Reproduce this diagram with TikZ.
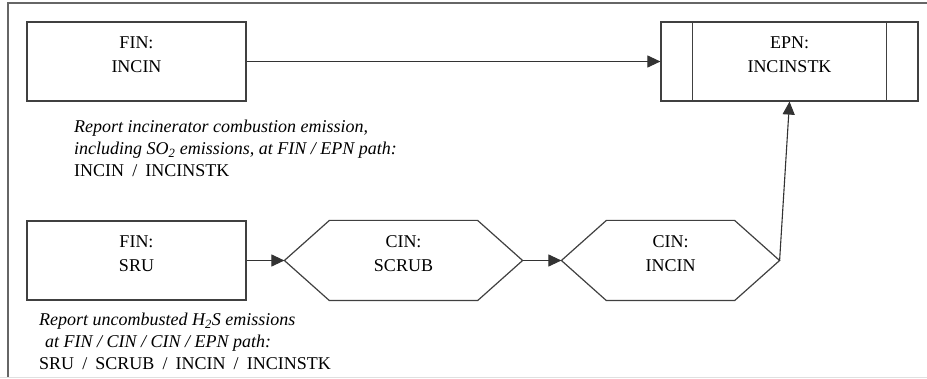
\documentclass[tikz,border=0pt]{standalone}
\usepackage{fontspec}
\setmainfont{Liberation Serif}
\usetikzlibrary{arrows.meta}
\newcommand{\pathsep}{\hspace{0.45em}/\hspace{0.45em}}
\begin{document}
\begin{tikzpicture}[x=1pt,y=-1pt,
  every node/.style={font=\fontsize{18}{24}\selectfont,align=center},
  unit/.style={draw=black!75,line width=1.2pt,minimum height=79pt,text depth=14pt,inner sep=0pt},
  note/.style={anchor=north west,align=left,inner sep=0pt,font=\fontsize{18}{22}\selectfont},
  flow/.style={draw=black!80,line width=1.1pt,-{Triangle[length=13pt,width=12pt]}}]
\useasboundingbox(0,0) rectangle (927,379);
\draw[black!60,line width=1.2pt](927,3)--(8,3)--(8,378);
\draw[black!12,line width=1pt](0,378)--(927,378);
\node[unit,minimum width=219pt](fincin) at (136.5,61.5){FIN:\\INCIN};
\node[unit,minimum width=257pt](epn) at (789.5,61.5){EPN:\\INCINSTK};
\draw[black!75,line width=1.2pt]([xshift=32pt]epn.north west)--([xshift=32pt]epn.south west)
  ([xshift=-32pt]epn.north east)--([xshift=-32pt]epn.south east);
\node[unit,minimum width=219pt](sru) at (136.5,260.5){FIN:\\SRU};
\node[unit,draw=none,minimum width=237pt](scrub) at (403.5,260.5){CIN:\\SCRUB};
\node[unit,draw=none,minimum width=217pt](cincin) at (670.5,260.5){CIN:\\INCIN};
\foreach \h in {scrub,cincin}
  \draw[black!75,line width=1.2pt](\h.west)--([xshift=45pt]\h.north west)--([xshift=-45pt]\h.north east)
    --(\h.east)--([xshift=-45pt]\h.south east)--([xshift=45pt]\h.south west)--cycle;
\node[note](incinnote) at (74,120){\textit{Report incinerator combustion emission,}\\
  \textit{including SO\textsubscript{2} emissions, at FIN / EPN path:}\\INCIN\pathsep INCINSTK};
\node[note](srunote) at (39,313){\textit{Report uncombusted H\textsubscript{2}S emissions}\\
  \hspace{6pt}\textit{at FIN / CIN / CIN / EPN path:}\\SRU\pathsep SCRUB\pathsep INCIN\pathsep INCINSTK};
\draw[flow](fincin)--(epn);
\draw[flow](sru)--(scrub);
\draw[flow](scrub)--(cincin);
\draw[flow](cincin.east)--(epn.south);
\end{tikzpicture}
\end{document}
